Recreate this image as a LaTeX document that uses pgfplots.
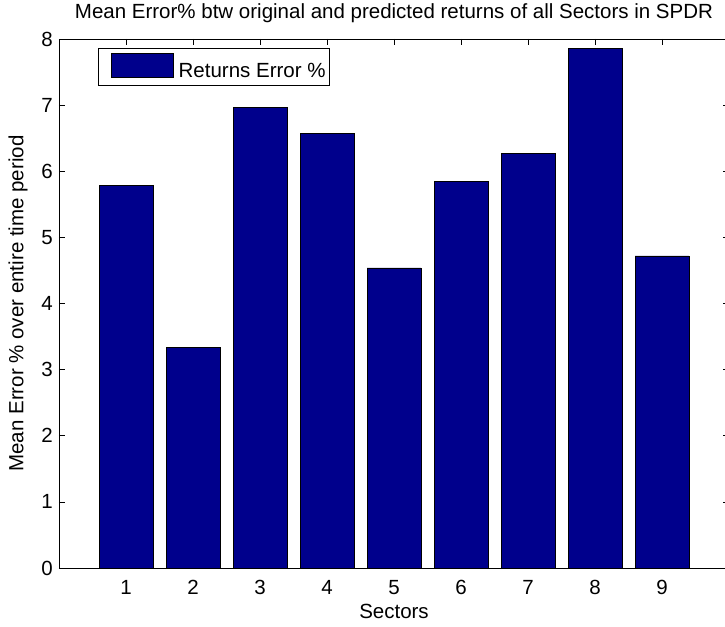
\documentclass[border=0pt]{standalone}
\usepackage{pgfplots}
\pgfplotsset{compat=1.18}
\usepackage{fontspec}
\setmainfont{Liberation Sans}
\definecolor{barblue}{RGB}{0,0,140}
\begin{document}
\fontsize{20.5}{24}\selectfont
\begin{tikzpicture}
\begin{axis}[
  name=ax,
  scale only axis,
  width=670pt, height=529pt,
  xmin=0, xmax=10, ymin=0, ymax=8,
  xtick={1,2,3,4,5,6,7,8,9},
  ytick={0,1,2,3,4,5,6,7,8},
  tick pos=both,
  tick align=inside,
  major tick length=6pt,
  tick style={black, line width=0.6pt},
  axis line style={black, line width=0.8pt},
  /pgf/number format/assume math mode=true,
  xticklabel style={inner sep=0pt, yshift=-12pt},
  yticklabel style={inner sep=0pt, xshift=-6pt},
  title={Mean Error\% btw original and predicted returns of all Sectors in SPDR},
  title style={at={(axis description cs:0.5,1.0265)}, anchor=base, inner sep=0pt},
  xlabel={Sectors},
  xlabel style={at={(axis description cs:0.5,-0.0964)}, anchor=base, inner sep=0pt},
  ylabel={Mean Error \% over entire time period},
  ylabel style={at={(axis description cs:-0.0612,0.5)}, anchor=center, inner sep=0pt},
  legend style={at={(axis description cs:0.0582,0.983)}, anchor=north west,
    draw=black, line width=0.8pt, inner xsep=4pt, inner ysep=5pt,
    nodes={inner sep=0pt}, column sep=5pt, font=\fontsize{20.5}{24}\selectfont},
  legend image code/.code={
    \path[draw=none, fill=none] (0pt,-6pt) rectangle (71pt,18pt);
    \draw[fill=barblue, draw=black, line width=0.5pt] (9pt,-6pt) rectangle (71pt,18pt);
  },
]
\addplot[ybar, bar width=0.8, bar shift=0pt, fill=barblue, draw=black, line width=0.5pt]
  coordinates {(1,5.79) (2,3.34) (3,6.97) (4,6.57) (5,4.54) (6,5.85) (7,6.27) (8,7.86) (9,4.72)};
\addlegendentry{Returns Error \%}
\end{axis}
\pgfresetboundingbox
\useasboundingbox ([xshift=-59pt,yshift=-59pt]ax.south west) rectangle ([xshift=666pt,yshift=39pt]ax.north west);
\end{tikzpicture}
\end{document}
